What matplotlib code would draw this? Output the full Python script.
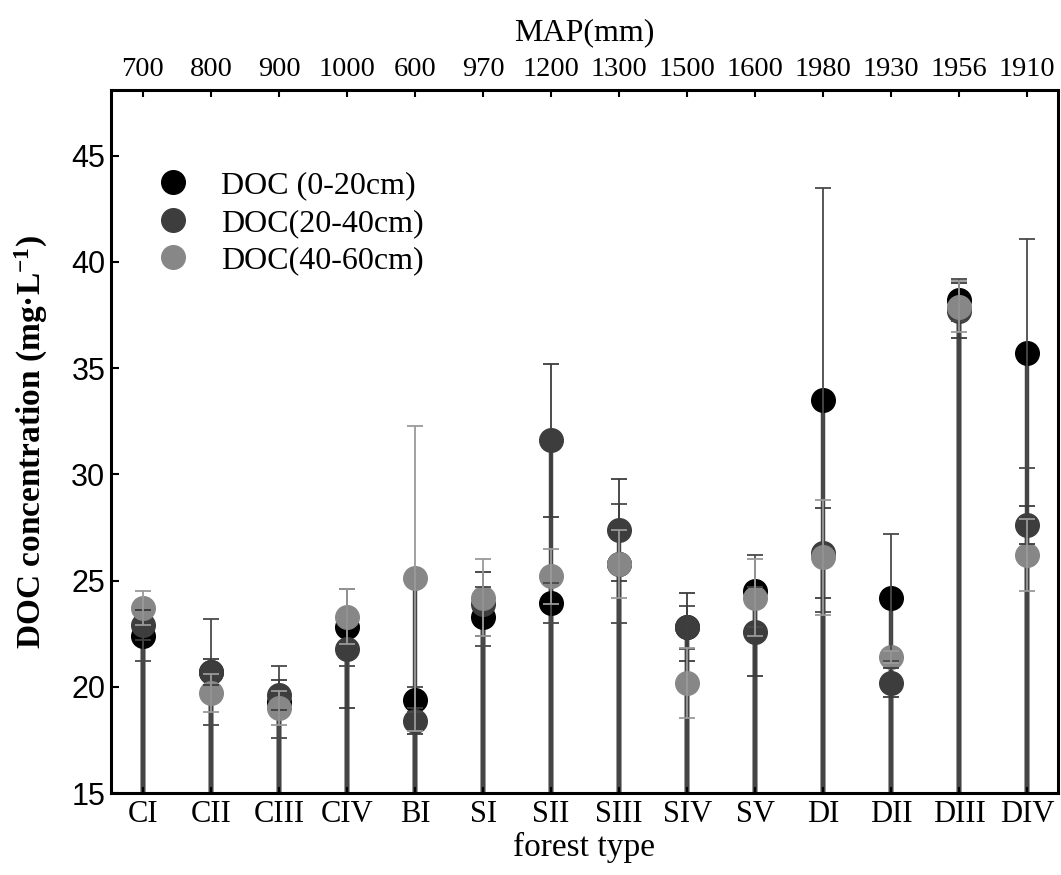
import numpy as np
import matplotlib
matplotlib.use("Agg")
import matplotlib.pyplot as plt

# forest types and mean annual precipitation
forest = ["CI", "CII", "CIII", "CIV", "BI", "SI", "SII", "SIII", "SIV", "SV",
          "DI", "DII", "DIII", "DIV"]
map_mm = ["700", "800", "900", "1000", "600", "970", "1200", "1300", "1500",
          "1600", "1980", "1930", "1956", "1910"]

# DOC concentration (mg/L) and errors per depth
doc_0_20 = [22.4, 20.7, 19.3, 22.8, 19.4, 23.3, 23.95, 25.8, 22.8, 24.5, 33.5, 24.2, 38.2, 35.7]
err_0_20 = [1.2, 2.5, 1.7, 1.8, 0.6, 1.4, 0.95, 2.8, 1.0, 1.7, 10.0, 3.0, 1.0, 5.4]
doc_20_40 = [22.9, 20.7, 19.6, 21.8, 18.4, 23.9, 31.6, 27.4, 22.8, 22.6, 26.3, 20.2, 37.7, 27.6]
err_20_40 = [0.7, 0.6, 0.7, 2.8, 0.6, 1.5, 3.6, 2.4, 1.6, 2.1, 2.1, 0.7, 1.3, 0.9]
doc_40_60 = [23.7, 19.7, 19.0, 23.3, 25.1, 24.2, 25.2, 25.8, 20.2, 24.2, 26.1, 21.4, 37.9, 26.2]
err_40_60 = [0.8, 0.9, 0.8, 1.3, 7.2, 1.8, 1.3, 1.6, 1.65, 1.8, 2.7, 0.3, 1.2, 1.7]

series = [
    ("DOC (0-20cm)", doc_0_20, err_0_20, "#000000", "#4a4a4a"),
    ("DOC(20-40cm)", doc_20_40, err_20_40, "#3d3d3d", "#3d3d3d"),
    ("DOC(40-60cm)", doc_40_60, err_40_60, "#878787", "#9a9a9a"),
]

serif = "Liberation Serif"
sans = "Liberation Sans"
plt.rcParams["mathtext.fontset"] = "custom"
plt.rcParams["mathtext.rm"] = "Liberation Serif:bold"
plt.rcParams["mathtext.bf"] = "Liberation Serif:bold"
plt.rcParams["mathtext.default"] = "bf"

fig = plt.figure(figsize=(10.61, 8.75), dpi=100)
ax = fig.add_axes([0.1046, 0.0937, 0.8925, 0.8035])
x = np.arange(len(forest))
ybase = 15

for label, vals, errs, col, ecol in series:
    ax.vlines(x, ybase, vals, colors="#454545", linewidth=3.2, zorder=1)

for label, vals, errs, col, ecol in series:
    ax.plot(x, vals, "o", color=col, markersize=17, linestyle="none",
            label=label, zorder=3)
    ax.errorbar(x, vals, yerr=errs, fmt="none", ecolor=ecol, elinewidth=1.3,
                capsize=6, capthick=1.3, zorder=4)

ax.set_ylim(15, 48.1)
ax.set_xlim(-0.47, 13.45)
ax.set_yticks(np.arange(15, 46, 5))
ax.set_xticks(x)
ax.set_xticklabels(forest, fontfamily=serif, fontsize=22)
for t in ax.get_yticklabels():
    t.set_fontfamily(sans)
    t.set_fontsize(22)
ax.tick_params(axis="y", direction="in", length=6, width=1.5, pad=4)
ax.tick_params(axis="x", direction="in", length=4, width=1.5, pad=5)
for s in ax.spines.values():
    s.set_linewidth(2.2)

ax.set_xlabel("forest type", fontfamily=serif, fontsize=24, labelpad=2)
ax.set_ylabel("DOC concentration (mg·L$^{-1}$)", fontfamily=serif,
              fontsize=24, fontweight="bold", labelpad=15)

ax2 = ax.twiny()
ax2.set_xlim(ax.get_xlim())
ax2.set_xticks(x)
ax2.set_xticklabels(map_mm, fontfamily=serif, fontsize=20.5)
ax2.tick_params(axis="x", direction="in", length=5, width=1.5, pad=6)
ax2.set_xlabel("MAP(mm)", fontfamily=serif, fontsize=23, labelpad=12)

ax.legend(loc="upper left", bbox_to_anchor=(0.015, 0.926), frameon=False,
          prop={"family": serif, "size": 23}, handletextpad=0.9,
          labelspacing=0.26, markerscale=1.0, handlelength=1.2)

fig.savefig("out.png", dpi=100)
